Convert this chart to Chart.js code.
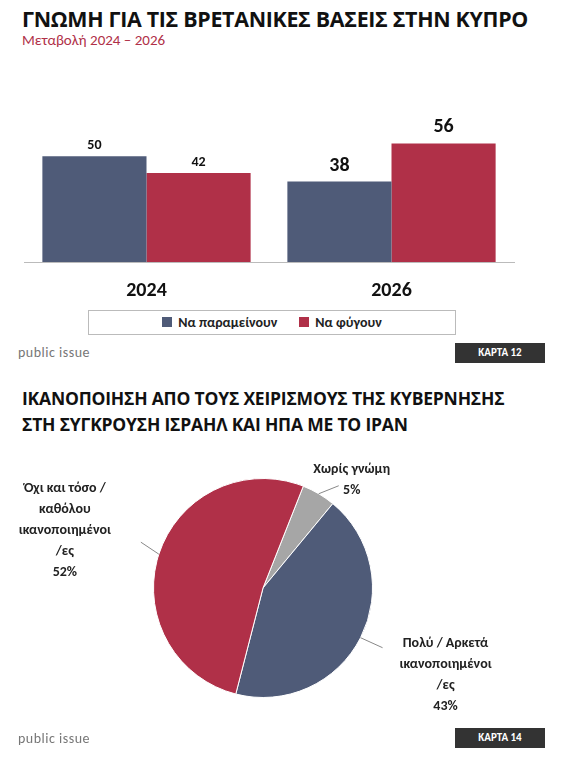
<!DOCTYPE html>
<html><head><meta charset="utf-8">
<script src="https://cdn.jsdelivr.net/npm/chart.js@4/dist/chart.umd.min.js"></script>
<style>
body{margin:0;width:577px;height:765px;background:#fff;font-family:Calibri,"Open Sans","Liberation Sans",sans-serif;position:relative;overflow:hidden}
.abs{position:absolute}
.t1{left:22px;top:4px;font-size:21.4px;font-weight:bold;color:#111;font-family:"Open Sans",sans-serif;letter-spacing:-0.3px}
.sub{left:22px;top:31px;font-size:15px;color:#b03048}
.legend{left:88px;top:310px;width:368px;height:25px;border:1px solid #bbb;box-sizing:border-box;display:flex;align-items:center;justify-content:center;gap:22px;font-size:14px;font-weight:bold;color:#222}
.legend span.sw{display:inline-block;width:10px;height:10px;margin-right:6px}
.pi{font-size:14px;color:#777;letter-spacing:0.5px}
.karta{background:#333;color:#fff;font-size:11px;font-weight:bold;width:90px;height:20px;line-height:20px;text-align:center}
.t2{left:22px;top:385px;font-size:17.5px;font-weight:bold;color:#111;line-height:26px;font-family:"Open Sans",sans-serif;letter-spacing:-0.2px}
</style></head><body>
<div class="abs t1">ΓΝΩΜΗ ΓΙΑ ΤΙΣ ΒΡΕΤΑΝΙΚΕΣ ΒΑΣΕΙΣ ΣΤΗΝ ΚΥΠΡΟ</div>
<div class="abs sub">Μεταβολή 2024 – 2026</div>
<canvas id="c1" class="abs" style="left:0;top:60px"></canvas>
<div class="abs legend"><div><span class="sw" style="background:#4f5b78"></span>Να παραμείνουν</div><div><span class="sw" style="background:#b03048"></span>Να φύγουν</div></div>
<div class="abs pi" style="left:18px;top:344px">public issue</div>
<div class="abs karta" style="left:455px;top:343px">ΚΑΡΤΑ 12</div>
<div class="abs t2">ΙΚΑΝΟΠΟΙΗΣΗ ΑΠΟ ΤΟΥΣ ΧΕΙΡΙΣΜΟΥΣ ΤΗΣ ΚΥΒΕΡΝΗΣΗΣ<br>ΣΤΗ ΣΥΓΚΡΟΥΣΗ ΙΣΡΑΗΛ ΚΑΙ ΗΠΑ ΜΕ ΤΟ ΙΡΑΝ</div>
<canvas id="c2" class="abs" style="left:0;top:440px"></canvas>
<div class="abs pi" style="left:18px;top:730px">public issue</div>
<div class="abs karta" style="left:455px;top:728px">ΚΑΡΤΑ 14</div>
<script>
const years=["2024","2026"];
const stay=[50,38];
const leave=[42,56];
const pieLabels=[["Χωρίς γνώμη","5%"],["Πολύ / Αρκετά","ικανοποιημένοι","/ες","43%"],["Όχι και τόσο /","καθόλου","ικανοποιημένοι","/ες","52%"]];
const pieValues=[5,43,52];
const BLUE="#4f5b78",RED="#b03048",GREY="#a6a6a6";
const FONT='Calibri,"Open Sans","Liberation Sans",sans-serif';

const barLabels={id:'bl',afterDatasetsDraw(ch){
  const c=ch.ctx;c.save();c.textAlign='center';c.fillStyle='#111';
  ch.data.datasets.forEach((ds,di)=>{
    ch.getDatasetMeta(di).data.forEach((b,i)=>{
      const big=i===1;c.font='bold '+(big?20:14)+'px '+FONT;c.textBaseline='bottom';
      c.fillText(ds.data[i],b.x,b.y-(big?6:4));
    });
  });
  const xs=ch.scales.x;c.font='bold 20px '+FONT;c.textBaseline='top';
  years.forEach((y,i)=>c.fillText(y,xs.getPixelForValue(i),ch.chartArea.bottom+19));
  c.restore();
}};
const c1=document.getElementById('c1');c1.width=577;c1.height=250;
new Chart(c1,{type:'bar',data:{labels:years,datasets:[
 {label:'Να παραμείνουν',data:stay,backgroundColor:BLUE,barPercentage:1,categoryPercentage:0.85},
 {label:'Να φύγουν',data:leave,backgroundColor:RED,barPercentage:1,categoryPercentage:0.85}]},
 options:{responsive:false,animation:false,layout:{padding:{left:24,right:63,top:20,bottom:40}},
 plugins:{legend:{display:false},tooltip:{enabled:false}},
 scales:{x:{grid:{display:false},border:{display:true,color:'#bbb'},ticks:{display:false}},
  y:{display:false,min:0,max:86}}},plugins:[barLabels]});

const pieLab={id:'pl',afterDatasetsDraw(ch){
  const c=ch.ctx;c.save();c.font='bold 14px '+FONT;c.fillStyle='#222';c.strokeStyle='#888';c.lineWidth=1;c.textAlign='center';c.textBaseline='middle';
  const off=[[33,-14,20,-8],[85,37,22,10],[-94,-24,-18,-12]];
  ch.getDatasetMeta(0).data.forEach((a,i)=>{
    const m=(a.startAngle+a.endAngle)/2;
    const ex=a.x+Math.cos(m)*a.outerRadius, ey=a.y+Math.sin(m)*a.outerRadius;
    const o=off[i];
    c.beginPath();c.moveTo(ex,ey);c.lineTo(ex+o[2],ey+o[3]);c.stroke();
    const lines=pieLabels[i];const lx=ex+o[0],ly=ey+o[1];
    const h=21;const y0=ly-(lines.length-1)*h/2;
    lines.forEach((t,k)=>c.fillText(t,lx,y0+k*h));
  });
  c.restore();
}};
const c2=document.getElementById('c2');c2.width=577;c2.height=310;
new Chart(c2,{type:'pie',data:{labels:pieLabels.map(l=>l.join(' ')),datasets:[{data:pieValues,backgroundColor:[GREY,BLUE,RED],borderColor:'#fff',borderWidth:1}]},
 options:{responsive:false,animation:false,rotation:21.6,layout:{padding:{left:153,right:204,top:38,bottom:52}},
 plugins:{legend:{display:false},tooltip:{enabled:false}}},plugins:[pieLab]});
</script></body></html>
